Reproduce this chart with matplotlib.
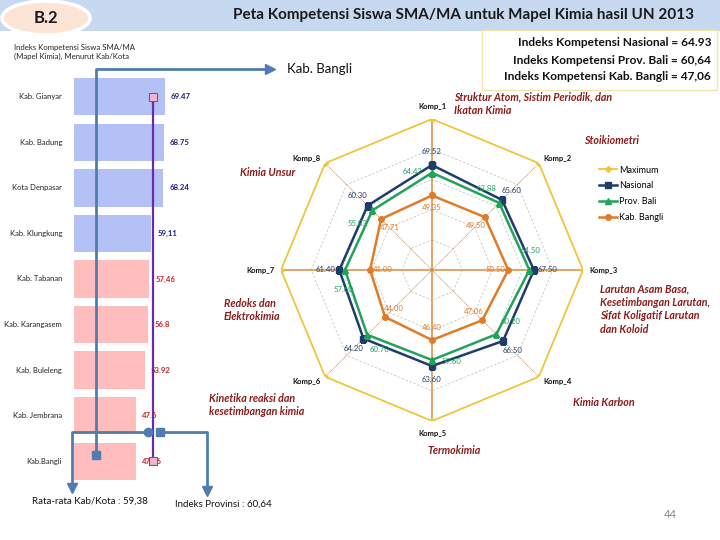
import numpy as np
import matplotlib
matplotlib.use("Agg")
import matplotlib.pyplot as plt
from matplotlib.patches import Rectangle, Ellipse
from matplotlib.lines import Line2D

plt.rcParams['font.family'] = ['Lato', 'DejaVu Sans']

# ---------------- data ----------------
kab_names = ['Kab. Gianyar', 'Kab. Badung', 'Kota Denpasar', 'Kab. Klungkung', 'Kab. Tabanan',
             'Kab. Karangasem', 'Kab. Buleleng', 'Kab. Jembrana', 'Kab.Bangli']
kab_values = [69.47, 68.75, 68.24, 59.11, 57.46, 56.8, 53.92, 47.6, 47.06]
kab_labels = ['69.47', '68.75', '68.24', '59,11', '57,46', '56.8', '53.92', '47.6', '47,06']
prov_index = 60.64
rata_rata = 59.38

komp = ['Komp_1', 'Komp_2', 'Komp_3', 'Komp_4', 'Komp_5', 'Komp_6', 'Komp_7', 'Komp_8']
maximum = [100, 100, 100, 100, 100, 100, 100, 100]
nasional = [69.52, 65.6, 67.5, 66.5, 63.6, 64.2, 61.4, 60.3]
prov_bali = [64.43, 62.88, 64.5, 60.2, 59.6, 60.7, 57.6, 55.83]
bangli = [49.35, 49.5, 50.5, 47.06, 46.4, 44.0, 41.0, 47.71]

topics = ['Struktur Atom, Sistim Periodik, dan\nIkatan Kimia', 'Stoikiometri',
          'Larutan Asam Basa,\nKesetimbangan Larutan,\nSifat Koligatif Larutan\ndan Koloid',
          'Kimia Karbon', 'Termokimia', 'Kinetika reaksi dan\nkesetimbangan kimia',
          'Redoks dan\nElektrokimia', 'Kimia Unsur']

W, H = 720, 540
fig = plt.figure(figsize=(7.2, 5.4), dpi=100)

def fx(x):
    return x / W

def fy(y):
    return 1 - y / H

# ---------------- header ----------------
fig.patches.append(Rectangle((0, fy(31)), 1, 31 / H, transform=fig.transFigure,
                             facecolor='#C6D9F1', edgecolor='none', zorder=0))
fig.patches.append(Ellipse((fx(46), fy(18)), 88 / W, 34 / H, transform=fig.transFigure,
                           facecolor='#FCE4D6', edgecolor='white', linewidth=2.5, zorder=1))
fig.text(fx(46), fy(18), 'B.2', ha='center', va='center', fontsize=12, fontweight='bold',
         color='#1a1a1a')
fig.text(fx(463), fy(15), 'Peta Kompetensi Siswa SMA/MA untuk Mapel Kimia hasil UN 2013',
         ha='center', va='center', fontsize=11, fontweight='bold', color='#1a1a1a')

# info box
fig.patches.append(Rectangle((fx(482), fy(90)), 235 / W, 60 / H, transform=fig.transFigure,
                             facecolor='white', edgecolor='#EFE6A8', linewidth=1.0, zorder=1))
for i, t in enumerate(['Indeks Kompetensi Nasional = 64.93',
                       'Indeks Kompetensi Prov. Bali = 60,64',
                       'Indeks Kompetensi Kab. Bangli = 47,06']):
    fig.text(fx(711), fy(43 + 17 * i), t, ha='right', va='center', fontsize=8.6,
             fontweight='bold', color='#111111')

fig.text(fx(14), fy(52), 'Indeks Kompetensi Siswa SMA/MA\n(Mapel Kimia), Menurut Kab/Kota',
         ha='left', va='center', fontsize=5.6, color='#222222', linespacing=1.3)
fig.text(fx(287), fy(69), 'Kab. Bangli', ha='left', va='center', fontsize=9.5, color='#111111')

# ---------------- bar chart ----------------
slope = 1.31  # px per unit
axb = fig.add_axes([fx(74), fy(484), 100 * slope / W, (484 - 74) / H])
ypos = np.arange(len(kab_names))
bar_colors = ['#B4C1F7'] * 4 + ['#FFBDBD'] * 5
lab_colors = ['#1a237e'] * 4 + ['#c62828'] * 5
axb.barh(ypos, kab_values, height=0.82, color=bar_colors, zorder=1)
axb.set_xlim(0, 100)
axb.set_ylim(len(kab_names) - 0.5, -0.5)
axb.axis('off')
for y, v, lab, c, name in zip(ypos, kab_values, kab_labels, lab_colors, kab_names):
    axb.text(v + 4.5, y, lab, ha='left', va='center', fontsize=5.6, color=c, fontweight='bold')
    axb.text(-9, y, name, ha='right', va='center', fontsize=5.5, color='#222222', clip_on=False)
axb.plot([prov_index, prov_index], [ypos[0], ypos[-1]], color='#6A2BA8', lw=1.6, zorder=3)
axb.plot([prov_index], [ypos[0]], marker='s', ms=6, mfc='#F3B6C8', mec='#4E5FC0', mew=0.8, zorder=4)
axb.plot([prov_index], [ypos[-1]], marker='s', ms=6, mfc='#F3B6C8', mec='#4E5FC0', mew=0.8, zorder=4)

# connector arrows (annotations)
conn = '#4F7DB0'
def fline(xs, ys, **kw):
    fig.add_artist(Line2D([fx(x) for x in xs], [fy(y) for y in ys], transform=fig.transFigure,
                          color=conn, lw=2, **kw))

def fmark(x, y, m, ms):
    fig.add_artist(Line2D([fx(x)], [fy(y)], transform=fig.transFigure, marker=m, ms=ms,
                          color=conn, lw=0))

fline([96, 96, 266], [455, 69, 69])
fmark(96, 455, 's', 6)
fmark(270, 69, '>', 7)
fline([148, 72, 72], [432, 432, 486])
fmark(148, 432, 'o', 6)
fmark(72, 488, 'v', 7)
fline([160, 207, 207], [432, 432, 489])
fmark(160, 432, 's', 6)
fmark(207, 491, 'v', 7)
fig.text(fx(32), fy(501), 'Rata-rata Kab/Kota : 59,38', ha='left', va='center', fontsize=7,
         color='#111111')
fig.text(fx(175), fy(504), 'Indeks Provinsi : 60,64', ha='left', va='center', fontsize=7,
         color='#111111')
fig.text(fx(670), fy(515), '44', ha='center', va='center', fontsize=8, color='#888888')

# ---------------- radar chart ----------------
cx, cy, R = 432, 270, 151
axr = fig.add_axes([fx(cx - R), fy(cy + R), 2 * R / W, 2 * R / H], projection='polar')
axr.set_theta_zero_location('N')
axr.set_theta_direction(-1)
axr.set_ylim(0, 100)
axr.grid(False)
axr.spines['polar'].set_visible(False)
axr.set_xticks([])
axr.set_yticks([])
axr.patch.set_alpha(0)

n = len(komp)
theta = np.linspace(0, 2 * np.pi, n, endpoint=False)
tc = np.append(theta, theta[0])

for r in [20, 40, 60, 80]:
    axr.plot(tc, [r] * (n + 1), color='#C8C8C8', lw=0.6, ls=(0, (3, 2)), zorder=1)
for i, t in enumerate(theta):
    if i % 2 == 0:
        axr.plot([t, t], [0, 100], color='#D98C3A', lw=1.1, zorder=1)
    else:
        axr.plot([t, t], [0, 100], color='#B8773A', lw=0.6, ls=(0, (1, 1)), zorder=1)

def closed(v):
    return list(v) + [v[0]]

axr.plot(tc, closed(maximum), color='#F0C53A', lw=1.3, marker='D', ms=3, label='Maximum', zorder=2)
axr.plot(tc, closed(nasional), color='#1F3D6B', lw=1.8, marker='s', ms=4.5, label='Nasional', zorder=3)
axr.plot(tc, closed(prov_bali), color='#21A35A', lw=1.8, marker='^', ms=4.5, label='Prov. Bali', zorder=4)
axr.plot(tc, closed(bangli), color='#E07B28', lw=1.8, marker='o', ms=4, label='Kab. Bangli', zorder=5)

def vlab(vals, color, radial, tang):
    for t, v in zip(theta, vals):
        s, c = np.sin(t), np.cos(t)
        dx = radial * s + tang * c
        dy = radial * c - tang * s
        axr.annotate(f'{v:.2f}', (t, v), xytext=(dx, dy), textcoords='offset points',
                     ha='center', va='center', fontsize=5.6, color=color, zorder=6)

vlab(nasional, '#1F3D6B', 10, 0)
vlab(prov_bali, '#21A35A', 1, -14)
vlab(bangli, '#E07B28', -9, 0)

# axis labels
for t, name in zip(theta, komp):
    ha = 'center'
    s = np.sin(t)
    if s > 0.3:
        ha = 'left'
    elif s < -0.3:
        ha = 'right'
    axr.text(t, 108 if abs(s) < 0.3 else 104, name, ha=ha, va='center', fontsize=5.5,
             fontweight='bold', color='#111111', clip_on=False)

# topic labels
topic_pos = [(454, 104, 'left'), (584, 140, 'left'), (600, 309, 'left'), (573, 402, 'left'),
             (427, 450, 'left'), (209, 405, 'left'), (224, 310, 'left'), (240, 172, 'left')]
for (x, y, ha), t in zip(topic_pos, topics):
    fig.text(fx(x), fy(y), t, ha=ha, va='center', fontsize=7.7, fontstyle='italic',
             fontweight='bold', color='#8B1A1A', linespacing=1.3)

# legend
handles, labels = axr.get_legend_handles_labels()
fig.legend(handles, labels, loc='upper left', bbox_to_anchor=(fx(595), fy(162)),
           frameon=False, fontsize=6.5, handlelength=2.0, labelspacing=0.75,
           handletextpad=0.3, borderaxespad=0)

fig.savefig('out.png', dpi=100)
